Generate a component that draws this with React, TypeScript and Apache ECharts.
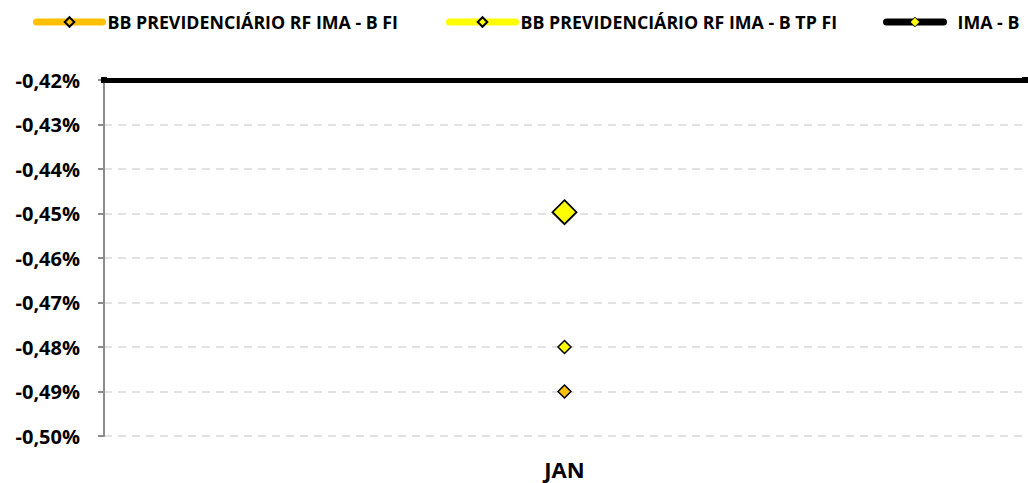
import React, { useEffect, useRef } from "react";
import * as echarts from "echarts";

const categories = ["JAN"];
const seriesNames = ["BB PREVIDENCIÁRIO RF IMA - B FI", "BB PREVIDENCIÁRIO RF IMA - B TP FI", "IMA - B"];
const fundIMAB = [-0.49];
const fundIMABTP = [-0.48];
const indexIMAB = [-0.4497];
const topLineValue = -0.42;
const yMin = -0.5;
const yMax = -0.42;
const yStep = 0.01;

export default function App() {
  const ref = useRef<HTMLDivElement>(null);
  useEffect(() => {
    document.body.style.margin = "0";
    const chart = echarts.init(ref.current!, undefined, { renderer: "svg" });
    const font = "'Open Sans', 'Noto Sans', sans-serif";
    const legendBase = {
      top: 13,
      padding: 0,
      itemWidth: 66,
      itemHeight: 12,
      itemGap: 0,
      lineStyle: { width: 7, cap: "round" },
      textStyle: { fontFamily: font, fontWeight: "bold", fontSize: 17.8, color: "#000", padding: [0, 0, 0, 0] },
    };
    chart.setOption({
      animation: false,
      backgroundColor: "#fff",
      legend: [
        { ...legendBase, left: 33, data: [{ name: seriesNames[0], itemStyle: { borderWidth: 2 } }] },
        { ...legendBase, left: 446, data: [{ name: seriesNames[1], itemStyle: { borderWidth: 2 } }] },
        {
          ...legendBase,
          left: 883,
          itemWidth: 57,
          data: [{ name: seriesNames[2], itemStyle: { borderWidth: 1 } }],
          textStyle: { ...legendBase.textStyle, padding: [0, 0, 0, 9] },
        },
      ],
      grid: { left: 104, right: 3, top: 80, bottom: 47 },
      xAxis: {
        type: "category",
        data: categories,
        boundaryGap: true,
        axisLine: { show: false },
        axisTick: { show: false },
        axisLabel: { fontFamily: font, fontWeight: "bold", fontSize: 22, color: "#000", margin: 22 },
      },
      yAxis: {
        type: "value",
        min: yMin,
        max: yMax,
        interval: yStep,
        axisLine: { show: true, lineStyle: { color: "#8c8c8c", width: 2 } },
        axisTick: { show: true, inside: false, length: 6, lineStyle: { color: "#8c8c8c", width: 2 } },
        splitLine: { show: true, lineStyle: { color: "#d9d9d9", type: [8, 6], width: 1.5 } },
        axisLabel: {
          fontFamily: font,
          fontWeight: "bold",
          fontSize: 20,
          color: "#000",
          margin: 24,
          formatter: (v: number) => v.toFixed(2).replace(".", ",") + "%",
        },
      },
      series: [
        {
          name: seriesNames[0],
          type: "line",
          data: fundIMAB,
          symbol: "diamond",
          symbolSize: 13,
          lineStyle: { color: "#FFC000", width: 7 },
          itemStyle: { color: "#FFC000", borderColor: "#000", borderWidth: 1.5 },
        },
        {
          name: seriesNames[1],
          type: "line",
          data: fundIMABTP,
          symbol: "diamond",
          symbolSize: 13,
          lineStyle: { color: "#FFFF00", width: 7 },
          itemStyle: { color: "#FFFF00", borderColor: "#000", borderWidth: 1.5 },
        },
        {
          name: seriesNames[2],
          type: "line",
          data: indexIMAB,
          symbol: "diamond",
          symbolSize: 24,
          lineStyle: { color: "#000", width: 7 },
          itemStyle: { color: "#FFFF00", borderColor: "#000", borderWidth: 1.8 },
          markLine: {
            silent: true,
            symbol: ["rect", "rect"],
            symbolSize: 6,
            label: { show: false },
            lineStyle: { color: "#000", width: 5, type: "solid" },
            data: [{ yAxis: topLineValue }],
          },
        },
      ],
    });
    return () => chart.dispose();
  }, []);
  return <div ref={ref} style={{ width: 1028, height: 483 }} />;
}
